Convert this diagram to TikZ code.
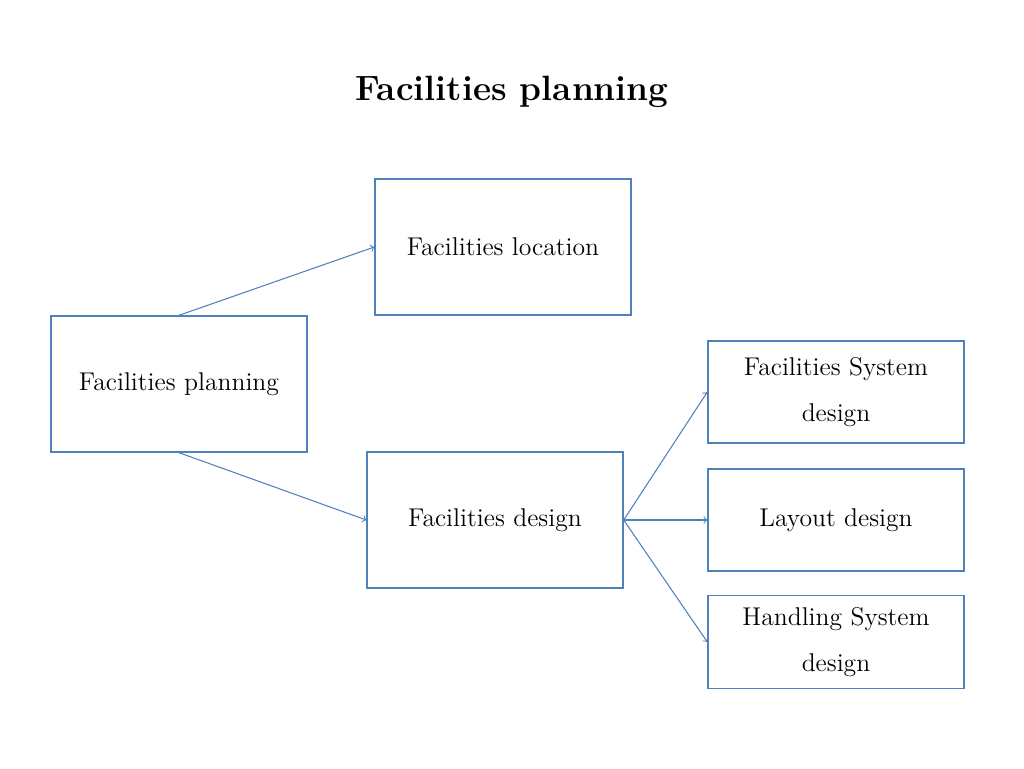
\documentclass[tikz,border=0pt]{standalone}
\usetikzlibrary{positioning}
\definecolor{boxblue}{RGB}{79,129,189}
\tikzset{
  boxnode/.style={draw=boxblue, thick, minimum width=5.12cm, align=center,
    font=\fontsize{14.6}{26.5}\selectfont},
  link/.style={->, boxblue, semithick}
}
\begin{document}
\begin{tikzpicture}[>=to, x=0.02cm, y=-0.02cm]
  \useasboundingbox (0,0) rectangle (1024,768);

  \node (title) at (512,92) {\fontsize{20}{24}\selectfont\bfseries Facilities planning};

  \node[boxnode, minimum height=2.72cm] (plan) at (179,384) {Facilities planning};
  \node[boxnode, minimum height=2.72cm] (loc) at (503,247) {Facilities location};
  \node[boxnode, minimum height=2.72cm] (design) at (495,520) {Facilities design};
  \node[boxnode, minimum height=2.04cm] (sys) at (836,392) {Facilities System\\design};
  \node[boxnode, minimum height=2.04cm] (layout) at (836,520) {Layout design};
  \node[boxnode, minimum height=1.86cm] (hand) at (836,642) {Handling System\\design};

  \draw[link] (plan.north) -- (loc.west);
  \draw[link] (plan.south) -- (design.west);
  \draw[link] (design.east) -- (sys.west);
  \draw[link] (design.east) -- (layout.west);
  \draw[link] (design.east) -- (hand.west);
\end{tikzpicture}
\end{document}
